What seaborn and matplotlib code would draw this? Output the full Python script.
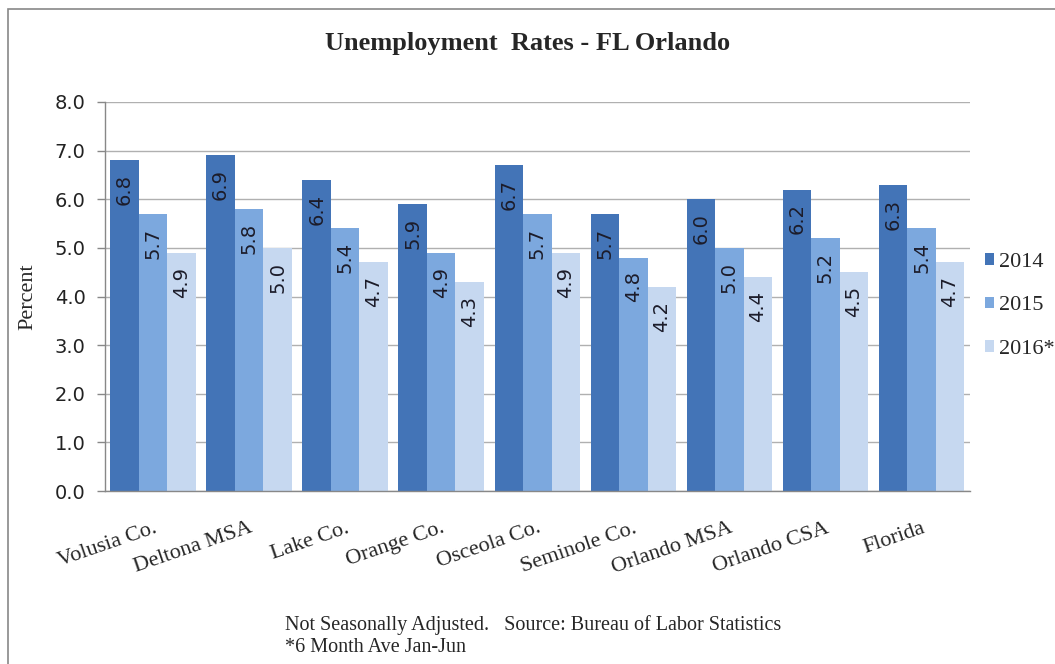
import pandas as pd
import matplotlib
matplotlib.use("Agg")
import matplotlib.pyplot as plt
from matplotlib.patches import Rectangle
import seaborn as sns

areas = ["Volusia Co.", "Deltona MSA", "Lake Co.", "Orange Co.", "Osceola Co.",
         "Seminole Co.", "Orlando MSA", "Orlando CSA", "Florida"]
years = ["2014", "2015", "2016*"]
rate_2014 = [6.8, 6.9, 6.4, 5.9, 6.7, 5.7, 6.0, 6.2, 6.3]
rate_2015 = [5.7, 5.8, 5.4, 4.9, 5.7, 4.8, 5.0, 5.2, 5.4]
rate_2016 = [4.9, 5.0, 4.7, 4.3, 4.9, 4.2, 4.4, 4.5, 4.7]
colors = ["#4374B7", "#7CA8DE", "#C6D8F0"]

rows = []
for year, vals in zip(years, [rate_2014, rate_2015, rate_2016]):
    for area, v in zip(areas, vals):
        rows.append({"area": area, "year": year, "rate": v})
df = pd.DataFrame(rows)

sns.set_style("white")
serif = ["Liberation Serif", "DejaVu Serif"]
sans = ["DejaVu Sans"]

fig = plt.figure(figsize=(10.55, 6.64), dpi=100)
ax = fig.add_axes([0.0995, 0.2605, 0.8195, 0.5859])

sns.barplot(data=df, x="area", y="rate", hue="year", order=areas,
            hue_order=years, palette=colors, width=0.89, saturation=1,
            edgecolor="none", linewidth=0, ax=ax)

# value labels sit just inside the top of each bar
for cont in ax.containers:
    texts = ax.bar_label(cont, fmt="%.1f", label_type="edge", padding=-10,
                         rotation=90, fontsize=14, color="#1c1c2a",
                         family=sans)
    for t in texts:
        t.set_va("top")
        t.set_ha("center")

ax.set_ylim(0, 8)
ax.set_xlim(-0.5, len(areas) - 0.5)
ax.set_yticks([i for i in range(9)])
ax.set_yticklabels([f"{i:.1f}" for i in range(9)], family=sans, fontsize=14,
                   color="#222222")
ax.yaxis.grid(True, color="#b0b0b0", linewidth=1)
ax.set_axisbelow(True)

ax.set_xticks(range(len(areas)))
ax.set_xticklabels(areas, rotation=19, ha="right", rotation_mode="anchor",
                   family=serif, fontsize=16)
ax.set_xticks([i - 0.5 for i in range(len(areas) + 1)], minor=True)
ax.tick_params(axis="x", which="major", length=0, pad=20)
ax.tick_params(axis="x", which="minor", length=6, color="#888888", width=1)
ax.tick_params(axis="y", length=6, color="#888888", width=1, left=True, pad=8)

for s in ["top", "right"]:
    ax.spines[s].set_visible(False)
for s in ["left", "bottom"]:
    ax.spines[s].set_color("#888888")
    ax.spines[s].set_linewidth(1)

ax.set_xlabel("")
ax.set_ylabel("Percent", family=serif, fontsize=16, labelpad=12)

ax.legend(loc="upper left", bbox_to_anchor=(985 / 1055, 1 - 253 / 664),
          bbox_transform=fig.transFigure, frameon=False,
          prop={"family": serif, "size": 16}, handlelength=0.4,
          handleheight=0.4, handletextpad=0.25, labelspacing=1.1,
          borderpad=0, borderaxespad=0)

fig.text(0.5, 0.934, "Unemployment  Rates - FL Orlando", ha="center",
         va="center", family=serif, fontsize=19, fontweight="bold")
fig.text(285 / 1055, 1 - 625 / 664,
         "Not Seasonally Adjusted.   Source: Bureau of Labor Statistics",
         family=serif, fontsize=14.5, va="center")
fig.text(285 / 1055, 1 - 648 / 664, "*6 Month Ave Jan-Jun", family=serif,
         fontsize=14.5, va="center")

fig.patches.append(Rectangle((8 / 1055, -0.05), 1.2, 1 - 9 / 664 + 0.05,
                             transform=fig.transFigure, fill=False,
                             edgecolor="#888888", linewidth=1.2))

fig.savefig("out.png", dpi=100)
